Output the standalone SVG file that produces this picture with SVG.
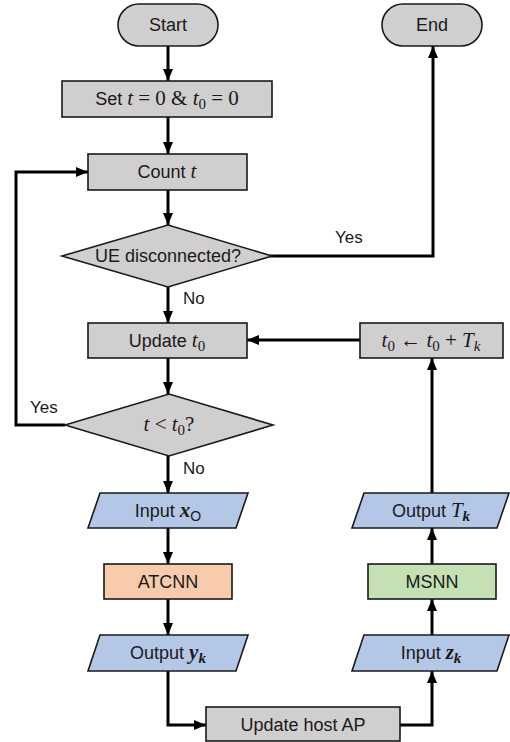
<svg xmlns="http://www.w3.org/2000/svg" width="510" height="742" viewBox="0 0 510 742">
<style>
.n{stroke:#1a1a1a;stroke-width:1.6}
.g{fill:#d0cece}
.b{fill:#b4c7e7}
.o{fill:#f8cbad}
.gr{fill:#c5e0b4}
.t{font-family:"Liberation Sans",Arial,sans-serif;font-size:18px;fill:#1a1a1a;text-anchor:middle}
.l{font-family:"Liberation Sans",Arial,sans-serif;font-size:17px;fill:#1a1a1a}
.m{font-family:"Liberation Serif","Times New Roman",serif;font-size:21px}
.s{font-size:15px}
.i{font-style:italic}
.bi{font-style:italic;font-weight:bold}
.c{fill:none;stroke:#000;stroke-width:3}
</style>
<defs>
<marker id="ah" markerUnits="userSpaceOnUse" markerWidth="12" markerHeight="10" refX="12" refY="5" orient="auto">
<path d="M0,0 L12,5 L0,10 z" fill="#000"/>
</marker>
</defs>
<g id="connectors">
<path class="c" d="M168,46 V81" marker-end="url(#ah)"/>
<path class="c" d="M168,117 V154" marker-end="url(#ah)"/>
<path class="c" d="M168,190 V225" marker-end="url(#ah)"/>
<path class="c" d="M168,287 V323" marker-end="url(#ah)"/>
<path class="c" d="M168,358 V394" marker-end="url(#ah)"/>
<path class="c" d="M168,456 V493" marker-end="url(#ah)"/>
<path class="c" d="M168,528 V564" marker-end="url(#ah)"/>
<path class="c" d="M168,599 V635" marker-end="url(#ah)"/>
<path class="c" d="M168,671 V725 H206" marker-end="url(#ah)"/>
<path class="c" d="M400,725 H432 V671" marker-end="url(#ah)"/>
<path class="c" d="M432,635 V599" marker-end="url(#ah)"/>
<path class="c" d="M432,564 V528" marker-end="url(#ah)"/>
<path class="c" d="M432,493 V358" marker-end="url(#ah)"/>
<path class="c" d="M360,340 H247" marker-end="url(#ah)"/>
<path class="c" d="M270,256 H433 V46" marker-end="url(#ah)"/>
<path class="c" d="M65,425 H16 V172 H88" marker-end="url(#ah)"/>
<text class="l" x="183" y="304">No</text>
<text class="l" x="183" y="474">No</text>
<text class="l" x="335" y="243">Yes</text>
<text class="l" x="30" y="413">Yes</text>
</g>
<g id="start">
<rect class="n g" x="118" y="4" width="100" height="42" rx="21"/>
<text class="t" x="168" y="31">Start</text>
</g>
<g id="end">
<rect class="n g" x="382" y="4" width="100" height="42" rx="21"/>
<text class="t" x="432" y="31">End</text>
</g>
<g id="set">
<rect class="n g" x="62" y="81" width="210" height="36"/>
<text class="t" x="167" y="105">Set <tspan class="m"><tspan class="i">t</tspan> = 0 &amp; <tspan class="i">t</tspan><tspan class="s" dy="4">0</tspan><tspan dy="-4"> = 0</tspan></tspan></text>
</g>
<g id="count">
<rect class="n g" x="88" y="154" width="159" height="36"/>
<text class="t" x="167" y="178">Count <tspan class="m i">t</tspan></text>
</g>
<g id="ue">
<polygon class="n g" points="62,256 168,225 272,256 168,287"/>
<text class="t" x="168" y="262">UE disconnected?</text>
</g>
<g id="update-t0">
<rect class="n g" x="88" y="323" width="159" height="35"/>
<text class="t" x="167" y="347">Update <tspan class="m i">t</tspan><tspan class="m s" dy="4">0</tspan></text>
</g>
<g id="t-less">
<polygon class="n g" points="65,425 169,394 273,425 169,456"/>
<text class="t" x="169" y="431"><tspan class="m"><tspan class="i">t</tspan> &lt; <tspan class="i">t</tspan><tspan class="s" dy="4">0</tspan><tspan dy="-4">?</tspan></tspan></text>
</g>
<g id="t0-update">
<rect class="n g" x="360" y="323" width="143" height="35"/>
<text class="t" x="431" y="347"><tspan class="m"><tspan class="i">t</tspan><tspan class="s" dy="4">0</tspan><tspan dy="-4"> ← </tspan><tspan class="i">t</tspan><tspan class="s" dy="4">0</tspan><tspan dy="-4"> + </tspan><tspan class="i">T</tspan><tspan class="i s" dy="4">k</tspan></tspan></text>
</g>
<g id="input-x">
<polygon class="n b" points="100,493 248,493 236,528 88,528"/>
<text class="t" x="168" y="517">Input <tspan class="m bi">x</tspan><tspan font-size="14" dy="4">O</tspan></text>
</g>
<g id="atcnn">
<rect class="n o" x="104" y="564" width="128" height="35"/>
<text class="t" x="168" y="588">ATCNN</text>
</g>
<g id="output-y">
<polygon class="n b" points="100,635 248,635 236,671 88,671"/>
<text class="t" x="168" y="659">Output <tspan class="m bi">y</tspan><tspan class="m bi s" dy="4">k</tspan></text>
</g>
<g id="update-ap">
<rect class="n g" x="206" y="707" width="194" height="34"/>
<text class="t" x="303" y="731">Update host AP</text>
</g>
<g id="input-z">
<polygon class="n b" points="364,635 509,635 497,671 352,671"/>
<text class="t" x="431" y="659">Input <tspan class="m bi">z</tspan><tspan class="m bi s" dy="4">k</tspan></text>
</g>
<g id="msnn">
<rect class="n gr" x="368" y="564" width="128" height="35"/>
<text class="t" x="432" y="588">MSNN</text>
</g>
<g id="output-T">
<polygon class="n b" points="364,493 509,493 497,528 352,528"/>
<text class="t" x="431" y="517">Output <tspan class="m i">T</tspan><tspan class="m bi s" dy="4">k</tspan></text>
</g>
</svg>
